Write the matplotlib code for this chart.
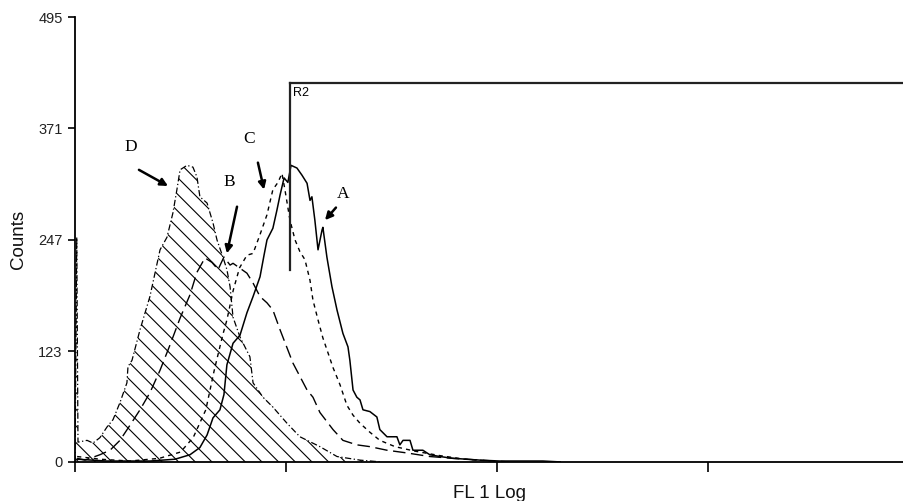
import matplotlib
matplotlib.use("Agg")
import matplotlib.pyplot as plt

plt.rcParams["font.family"] = ["Liberation Sans", "DejaVu Sans"]
plt.rcParams["hatch.linewidth"] = 0.8

# FL1 position in decades (0 = 10^0) and event counts
d_x = [0.0, 0.008, 0.014, 0.057, 0.085, 0.118, 0.152, 0.180, 0.213, 0.246, 0.251, 0.270,
       0.308, 0.355, 0.403, 0.436, 0.464, 0.483, 0.498, 0.531, 0.559, 0.578, 0.592,
       0.626, 0.654, 0.673, 0.701, 0.720, 0.735, 0.749, 0.782, 0.829, 0.844, 0.891,
       0.938, 1.005, 1.066, 1.161, 1.242, 1.351, 1.45]
d_y = [0, 250, 22, 24, 21, 27, 39, 47, 66, 88, 106, 113,
       147, 184, 236, 250, 277, 303, 325, 330, 328, 317, 295,
       288, 266, 247, 228, 214, 195, 161, 139, 117, 88, 72,
       61, 43, 28, 17, 6, 2, 0]

b_x = [0.01, 0.047, 0.118, 0.166, 0.213, 0.261, 0.308, 0.355, 0.403, 0.450, 0.498, 0.545,
       0.578, 0.616, 0.649, 0.678, 0.706, 0.735, 0.749, 0.815, 0.844, 0.877, 0.910,
       0.938, 0.972, 1.033, 1.100, 1.128, 1.161, 1.223, 1.270, 1.336, 1.398, 1.479,
       1.573, 1.682, 1.791, 1.919, 2.06]
b_y = [4, 2, 8, 13, 24, 41, 58, 77, 102, 130, 160, 186,
       211, 227, 222, 214, 228, 219, 221, 210, 199, 184, 177,
       169, 147, 110, 80, 72, 55, 36, 24, 19, 17, 13,
       10, 6, 4, 2, 0]

c_x = [0.01, 0.12, 0.26, 0.40, 0.50, 0.56, 0.62, 0.66, 0.70, 0.72, 0.75, 0.78, 0.815,
       0.844, 0.877, 0.910, 0.938, 0.962, 0.981, 0.995, 1.019, 1.043, 1.066, 1.090,
       1.114, 1.128, 1.152, 1.175, 1.194, 1.223, 1.256, 1.289, 1.318, 1.351, 1.398,
       1.445, 1.517, 1.611, 1.730, 1.848, 1.97]
c_y = [6, 3, 1, 4, 11, 27, 58, 102, 141, 158, 191, 216, 230,
       232, 253, 275, 303, 311, 321, 303, 269, 247, 234, 225,
       202, 180, 158, 138, 125, 105, 86, 63, 52, 43, 33,
       24, 17, 12, 7, 3, 1]

a_x = [0.01, 0.15, 0.355, 0.474, 0.545, 0.592, 0.626, 0.654, 0.687, 0.706, 0.720, 0.749,
       0.782, 0.815, 0.844, 0.877, 0.896, 0.910, 0.938, 0.957, 0.972, 0.991, 1.009,
       1.024, 1.052, 1.076, 1.100, 1.114, 1.123, 1.137, 1.152, 1.171, 1.175, 1.194,
       1.199, 1.218, 1.242, 1.270, 1.294, 1.303, 1.318, 1.336, 1.351, 1.365, 1.398,
       1.431, 1.445, 1.479, 1.526, 1.540, 1.555, 1.588, 1.602, 1.649, 1.682, 1.730,
       1.791, 1.858, 1.919, 2.014, 2.218, 2.3]
a_y = [3, 1, 1, 3, 8, 16, 30, 49, 58, 75, 108, 132,
       141, 166, 184, 206, 230, 247, 260, 280, 297, 316, 311,
       330, 327, 319, 310, 291, 295, 269, 236, 258, 261, 228,
       221, 195, 169, 143, 128, 113, 80, 72, 69, 58, 56,
       50, 36, 28, 28, 19, 24, 24, 13, 13, 8, 6,
       4, 3, 2, 1, 1, 0]

y_ticks = [0, 123, 247, 371, 495]
x_ticks = [0, 1, 2, 3]
gate_x = 1.02
gate_low, gate_high = 213, 422

fig = plt.figure(figsize=(9.04, 5.01), dpi=100)
ax = fig.add_axes([0.083, 0.078, 0.917, 0.888])
x_max = 3.93

# D: hatched histogram with dash-dot outline
ax.fill_between(d_x, d_y, 0, facecolor="none", edgecolor="black", hatch="\\\\", linewidth=0)
ax.plot(d_x, d_y, color="black", lw=0.9, ls=(0, (5, 2, 1, 2)))
ax.plot(b_x, b_y, color="black", lw=1.0, ls=(0, (9, 4)))
ax.plot(c_x, c_y, color="black", lw=1.0, ls=(0, (3, 3)))
ax.plot(a_x, a_y, color="black", lw=1.1)

# R2 gate
ax.plot([gate_x, gate_x], [gate_low, gate_high], color="#222222", lw=1.6)
ax.plot([gate_x, x_max], [gate_high, gate_high], color="#222222", lw=1.6)
ax.text(gate_x + 0.015, gate_high - 5, "R2", fontsize=9, va="top", ha="left")

# curve labels with arrows
labels = [("D", 0.265, 350, 0.303, 325, 0.441, 307),
          ("B", 0.730, 311, 0.768, 284, 0.720, 232),
          ("C", 0.825, 359, 0.867, 333, 0.896, 303),
          ("A", 1.270, 298, 1.237, 283, 1.185, 269)]
for name, tx, ty, sx, sy, hx, hy in labels:
    ax.text(tx, ty, name, family=["Liberation Serif"], fontsize=12.5, ha="center", va="center")
    ax.annotate("", xy=(hx, hy), xytext=(sx, sy),
                arrowprops=dict(arrowstyle="-|>", color="black", lw=1.8,
                                mutation_scale=11, shrinkA=0, shrinkB=0))

ax.set_xlim(0, x_max)
ax.set_ylim(0, 495)
ax.set_yticks(y_ticks)
ax.set_yticklabels([str(v) for v in y_ticks], fontsize=10.5, color="#222222")
ax.set_xticks(x_ticks)
ax.set_xticklabels([])
ax.tick_params(axis="y", length=5, width=1.2, pad=4)
ax.tick_params(axis="x", length=7, width=1.2)
for side in ("top", "right"):
    ax.spines[side].set_visible(False)
for side in ("left", "bottom"):
    ax.spines[side].set_linewidth(1.3)
ax.set_ylabel("Counts", fontsize=13.5, labelpad=8, color="#111111")
ax.set_xlabel("FL 1 Log", fontsize=13.5, labelpad=6, color="#111111")

fig.savefig("out.png", dpi=100, facecolor="white")
